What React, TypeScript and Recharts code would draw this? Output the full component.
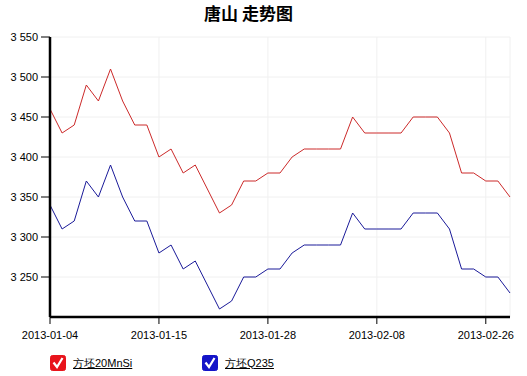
import { LineChart, Line, XAxis, YAxis, CartesianGrid } from 'recharts';

const dates = [
  '2013-01-04', '2013-01-05', '2013-01-07', '2013-01-08', '2013-01-09',
  '2013-01-10', '2013-01-11', '2013-01-12', '2013-01-14', '2013-01-15',
  '2013-01-16', '2013-01-17', '2013-01-18', '2013-01-21', '2013-01-22',
  '2013-01-23', '2013-01-24', '2013-01-25', '2013-01-28', '2013-01-29',
  '2013-01-30', '2013-01-31', '2013-02-01', '2013-02-04', '2013-02-05',
  '2013-02-06', '2013-02-07', '2013-02-08', '2013-02-16', '2013-02-17',
  '2013-02-18', '2013-02-19', '2013-02-20', '2013-02-21', '2013-02-22',
  '2013-02-25', '2013-02-26', '2013-02-27', '2013-02-28',
];

const mnsi = [
  3460, 3430, 3440, 3490, 3470, 3510, 3470, 3440, 3440, 3400,
  3410, 3380, 3390, 3360, 3330, 3340, 3370, 3370, 3380, 3380,
  3400, 3410, 3410, 3410, 3410, 3450, 3430, 3430, 3430, 3430,
  3450, 3450, 3450, 3430, 3380, 3380, 3370, 3370, 3350,
];

const q235 = [
  3340, 3310, 3320, 3370, 3350, 3390, 3350, 3320, 3320, 3280,
  3290, 3260, 3270, 3240, 3210, 3220, 3250, 3250, 3260, 3260,
  3280, 3290, 3290, 3290, 3290, 3330, 3310, 3310, 3310, 3310,
  3330, 3330, 3330, 3310, 3260, 3260, 3250, 3250, 3230,
];

const yTicks = [3250, 3300, 3350, 3400, 3450, 3500, 3550];

const series = [
  { key: 'mnsi', name: '方坯20MnSi', color: '#cc2a2a', box: '#e8141c' },
  { key: 'q235', name: '方坯Q235', color: '#1a1a99', box: '#1414c8' },
];

const data = dates.map((d, i) => ({ date: d, mnsi: mnsi[i], q235: q235[i] }));

const font = '"Liberation Sans", Arial, sans-serif';

const fmt = (v: number) => String(v).replace(/\B(?=(\d{3})+(?!\d))/g, ' ');

function Check({ color }: { color: string }) {
  return (
    <svg width={16} height={16} style={{ display: 'block' }}>
      <rect x={0.5} y={0.5} width={15} height={15} rx={2} fill={color} stroke={color} />
      <path d="M3.5 7.5 L7 12 L12.5 3" fill="none" stroke="#fff" strokeWidth={2.2} />
    </svg>
  );
}

export default function App() {
  return (
    <div style={{ position: 'absolute', left: 0, top: 0, width: 527, height: 376, background: '#fff', fontFamily: font }}>
      <LineChart width={527} height={376} data={data} margin={{ top: 37, right: 17, left: 0, bottom: 0 }}>
        <CartesianGrid stroke="#f0f0f0" />
        <XAxis
          dataKey="date"
          interval={8}
          height={59}
          tickSize={7}
          tickMargin={7}
          stroke="#000"
          axisLine={{ stroke: '#000', strokeWidth: 2.5 }}
          tickLine={{ stroke: '#000' }}
          tick={{ fill: '#000', fontSize: 11, fontFamily: font }}
        />
        <YAxis
          domain={[3200, 3550]}
          ticks={yTicks}
          width={50}
          tickSize={9}
          tickMargin={3}
          tickFormatter={fmt}
          axisLine={{ stroke: '#000', strokeWidth: 2.5 }}
          tickLine={{ stroke: '#000' }}
          tick={{ fill: '#000', fontSize: 11, fontFamily: font }}
        />
        {series.map((s) => (
          <Line
            key={s.key}
            dataKey={s.key}
            name={s.name}
            stroke={s.color}
            strokeWidth={1}
            dot={false}
            isAnimationActive={false}
          />
        ))}
      </LineChart>
      <div
        style={{
          position: 'absolute', left: 0, width: 497, top: 0, textAlign: 'center',
          fontFamily: '"Noto Sans CJK SC", sans-serif', fontWeight: 'bold', fontSize: 17, lineHeight: '25px',
        }}
      >
        唐山 走势图
      </div>
      {series.map((s, i) => (
        <div
          key={s.key}
          style={{ position: 'absolute', left: 50 + i * 152, top: 355, display: 'flex', alignItems: 'center' }}
        >
          <Check color={s.box} />
          <span style={{ marginLeft: 7, fontSize: 11, textDecoration: 'underline', color: '#000' }}>{s.name}</span>
        </div>
      ))}
    </div>
  );
}
